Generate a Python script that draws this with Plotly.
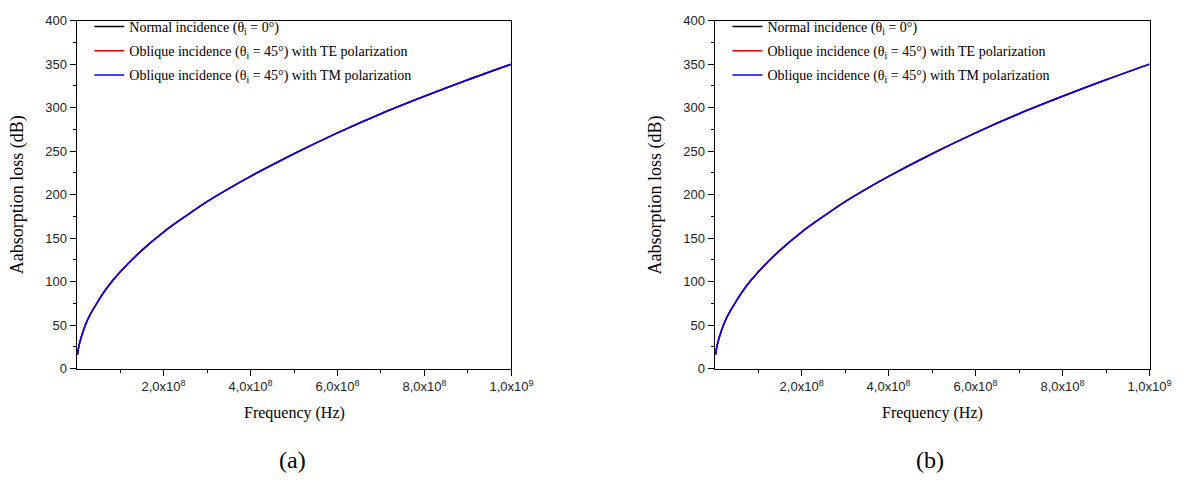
import plotly.graph_objects as go

W, H = 1201, 494

# ---- data ----
freq_hz = [2e6, 5e6, 1e7, 2e7, 3e7, 5e7, 7e7, 1e8, 1.5e8, 2e8, 2.5e8, 3e8, 3.5e8,
           4e8, 5e8, 6e8, 7e8, 8e8, 9e8, 1e9]
normal_db = [16, 25, 35, 50, 61, 78, 93, 111, 136, 157, 175, 192, 207,
             221, 247, 271, 293, 313, 332, 350]
te_db = [16, 25, 35, 50, 61, 78, 93, 111, 136, 157, 175, 192, 207,
         221, 247, 271, 293, 313, 332, 350]
tm_db = [16, 25, 35, 50, 61, 78, 93, 111, 136, 157, 175, 192, 207,
         221, 247, 271, 293, 313, 332, 350]

series_names = [
    "Normal incidence (θ<sub>i</sub> = 0°)",
    "Oblique incidence (θ<sub>i</sub> = 45°) with TE polarization",
    "Oblique incidence (θ<sub>i</sub> = 45°) with TM polarization",
]
series_colors = ["#000000", "#ff0000", "#0000ff"]
series_values = [normal_db, te_db, tm_db]

x_tickvals = [2e8, 4e8, 6e8, 8e8, 1e9]
x_ticktext = ["2,0x10<sup>8</sup>", "4,0x10<sup>8</sup>", "6,0x10<sup>8</sup>",
              "8,0x10<sup>8</sup>", "1,0x10<sup>9</sup>"]
panel_labels = ["(a)", "(b)"]

SERIF = "Liberation Serif"
SANS = "Liberation Sans"


def px_x(p):
    return p / W


def px_y(p):
    return 1 - p / H


fig = go.Figure()

axes = [("x", "y", "legend"), ("x2", "y2", "legend2")]
for xa, ya, lg in axes:
    for k, (name, col, vals) in enumerate(zip(series_names, series_colors, series_values)):
        fig.add_trace(go.Scatter(
            x=freq_hz, y=vals, mode="lines", name=name, xaxis=xa, yaxis=ya,
            legend=lg, legendgroup=f"{lg}_{k}",
            line=dict(color=col, width=1.5, shape="spline"),
        ))

plot_boxes = [(78, 521), (728, 1171)]
top_px, bot_px = 14, 373

common_x = dict(
    range=[0, 1e9], showgrid=False, zeroline=False, showline=True, linecolor="black",
    linewidth=1, mirror=True, ticks="outside", ticklen=6, tickwidth=1, tickcolor="black",
    tickvals=x_tickvals, ticktext=x_ticktext,
    tickfont=dict(family=SANS, size=13, color="#222"),
    minor=dict(tickvals=[1e8, 3e8, 5e8, 7e8, 9e8], ticks="outside", ticklen=3,
               tickcolor="black", tickwidth=1),
)
common_y = dict(
    range=[0, 400], showgrid=False, zeroline=False, showline=True, linecolor="black",
    linewidth=1, mirror=True, ticks="outside", ticklen=6, tickwidth=1, tickcolor="black",
    dtick=50, tick0=0, tickfont=dict(family=SANS, size=13, color="#222"),
    minor=dict(dtick=25, ticks="outside", ticklen=3, tickcolor="black", tickwidth=1),
)

legend_common = dict(xanchor="left", yanchor="top", bgcolor="rgba(0,0,0,0)",
                     font=dict(family=SERIF, size=14, color="black"), tracegroupgap=3)

ydom = [px_y(bot_px), px_y(top_px)]
fig.update_layout(
    width=W, height=H, margin=dict(l=0, r=0, t=0, b=0),
    paper_bgcolor="white", plot_bgcolor="white",
    xaxis=dict(domain=[px_x(plot_boxes[0][0]), px_x(plot_boxes[0][1])], anchor="y", **common_x),
    yaxis=dict(domain=ydom, anchor="x", **common_y),
    xaxis2=dict(domain=[px_x(plot_boxes[1][0]), px_x(plot_boxes[1][1])], anchor="y2", **common_x),
    yaxis2=dict(domain=ydom, anchor="x2", **common_y),
    legend=dict(x=px_x(plot_boxes[0][0] + 13), y=px_y(top_px - 10), **legend_common),
    legend2=dict(x=px_x(plot_boxes[1][0] + 13), y=px_y(top_px - 10), **legend_common),
    showlegend=True,
)

annotations = []
for (x0, x1), lab, ytitle_x in zip(plot_boxes, panel_labels, [18, 668]):
    cx = (x0 + x1) / 2
    annotations.append(dict(text="Frequency (Hz)", x=px_x(cx), y=px_y(419), xref="paper", yref="paper",
                            showarrow=False, font=dict(family=SERIF, size=16, color="black"),
                            xanchor="center", yanchor="middle"))
    annotations.append(dict(text="Aabsorption loss (dB)", x=px_x(ytitle_x), y=px_y((top_px + bot_px) / 2),
                            xref="paper", yref="paper", showarrow=False, textangle=-90,
                            font=dict(family=SERIF, size=18, color="black"),
                            xanchor="center", yanchor="middle"))
    annotations.append(dict(text=lab, x=px_x(cx - 2), y=px_y(467), xref="paper", yref="paper",
                            showarrow=False, font=dict(family=SERIF, size=24, color="black"),
                            xanchor="center", yanchor="middle"))
fig.update_layout(annotations=annotations)

fig.write_html("out.html", post_script="document.body.style.margin='0';",
               config={"displayModeBar": False})
